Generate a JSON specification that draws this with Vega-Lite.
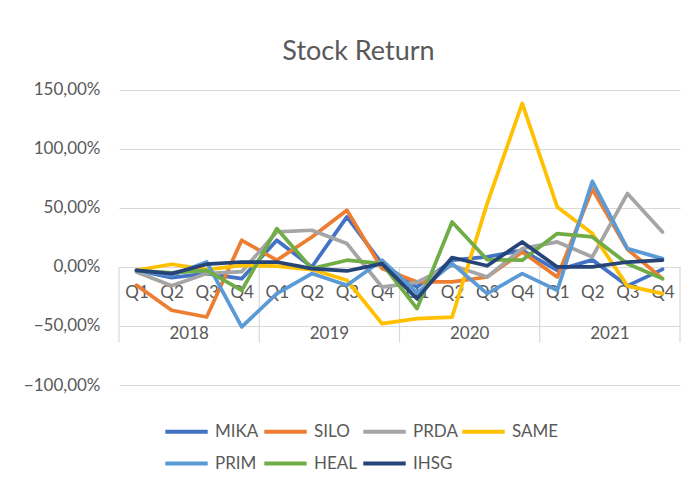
{
  "$schema": "https://vega.github.io/schema/vega-lite/v6.json",
  "width": 561,
  "height": 301,
  "autosize": {"type": "none"},
  "padding": {"left": 119, "top": 84, "right": 11, "bottom": 102},
  "background": "white",
  "title": {"text": "Stock Return", "fontSize": 27, "fontWeight": "normal", "color": "#595959", "font": "Lato", "anchor": "middle", "offset": 15, "dx": -41},
  "config": {
    "font": "Lato",
    "view": {"stroke": null},
    "axis": {"labelColor": "#595959", "labelFont": "Lato"},
    "axisY": {"grid": true, "gridColor": "#d9d9d9", "gridWidth": 1.2, "gridOpacity": 1},
    "legend": {"labelColor": "#595959", "labelFont": "Lato"}
  },
  "datasets": {
    "returns": [
      {"period": "2018 Q1", "series": "MIKA", "value": -2.8},
      {"period": "2018 Q2", "series": "MIKA", "value": -9},
      {"period": "2018 Q3", "series": "MIKA", "value": -5.6},
      {"period": "2018 Q4", "series": "MIKA", "value": -9.9},
      {"period": "2019 Q1", "series": "MIKA", "value": 22.6},
      {"period": "2019 Q2", "series": "MIKA", "value": 0},
      {"period": "2019 Q3", "series": "MIKA", "value": 42.4},
      {"period": "2019 Q4", "series": "MIKA", "value": 2.8},
      {"period": "2020 Q1", "series": "MIKA", "value": -17},
      {"period": "2020 Q2", "series": "MIKA", "value": 5.7},
      {"period": "2020 Q3", "series": "MIKA", "value": 8.5},
      {"period": "2020 Q4", "series": "MIKA", "value": 14.1},
      {"period": "2021 Q1", "series": "MIKA", "value": -2.8},
      {"period": "2021 Q2", "series": "MIKA", "value": 6},
      {"period": "2021 Q3", "series": "MIKA", "value": -16},
      {"period": "2021 Q4", "series": "MIKA", "value": -2},
      {"period": "2018 Q1", "series": "SILO", "value": -15.5},
      {"period": "2018 Q2", "series": "SILO", "value": -36.7},
      {"period": "2018 Q3", "series": "SILO", "value": -42.4},
      {"period": "2018 Q4", "series": "SILO", "value": 22.6},
      {"period": "2019 Q1", "series": "SILO", "value": 5.7},
      {"period": "2019 Q2", "series": "SILO", "value": 25.4},
      {"period": "2019 Q3", "series": "SILO", "value": 48},
      {"period": "2019 Q4", "series": "SILO", "value": -1.4},
      {"period": "2020 Q1", "series": "SILO", "value": -12.7},
      {"period": "2020 Q2", "series": "SILO", "value": -12.7},
      {"period": "2020 Q3", "series": "SILO", "value": -8.5},
      {"period": "2020 Q4", "series": "SILO", "value": 12.7},
      {"period": "2021 Q1", "series": "SILO", "value": -8.5},
      {"period": "2021 Q2", "series": "SILO", "value": 66},
      {"period": "2021 Q3", "series": "SILO", "value": 15},
      {"period": "2021 Q4", "series": "SILO", "value": -9.9},
      {"period": "2018 Q1", "series": "PRDA", "value": -4.2},
      {"period": "2018 Q2", "series": "PRDA", "value": -16},
      {"period": "2018 Q3", "series": "PRDA", "value": -5.6},
      {"period": "2018 Q4", "series": "PRDA", "value": -4},
      {"period": "2019 Q1", "series": "PRDA", "value": 29.7},
      {"period": "2019 Q2", "series": "PRDA", "value": 31.1},
      {"period": "2019 Q3", "series": "PRDA", "value": 19.8},
      {"period": "2019 Q4", "series": "PRDA", "value": -17},
      {"period": "2020 Q1", "series": "PRDA", "value": -13},
      {"period": "2020 Q2", "series": "PRDA", "value": 1.4},
      {"period": "2020 Q3", "series": "PRDA", "value": -8.5},
      {"period": "2020 Q4", "series": "PRDA", "value": 15.5},
      {"period": "2021 Q1", "series": "PRDA", "value": 21.2},
      {"period": "2021 Q2", "series": "PRDA", "value": 8.5},
      {"period": "2021 Q3", "series": "PRDA", "value": 62.2},
      {"period": "2021 Q4", "series": "PRDA", "value": 29.7},
      {"period": "2018 Q1", "series": "SAME", "value": -2.8},
      {"period": "2018 Q2", "series": "SAME", "value": 2.3},
      {"period": "2018 Q3", "series": "SAME", "value": -2.2},
      {"period": "2018 Q4", "series": "SAME", "value": 1.4},
      {"period": "2019 Q1", "series": "SAME", "value": 0.8},
      {"period": "2019 Q2", "series": "SAME", "value": -2.2},
      {"period": "2019 Q3", "series": "SAME", "value": -11.3},
      {"period": "2019 Q4", "series": "SAME", "value": -48},
      {"period": "2020 Q1", "series": "SAME", "value": -43.8},
      {"period": "2020 Q2", "series": "SAME", "value": -42.4},
      {"period": "2020 Q3", "series": "SAME", "value": 53.7},
      {"period": "2020 Q4", "series": "SAME", "value": 138.5},
      {"period": "2021 Q1", "series": "SAME", "value": 50.8},
      {"period": "2021 Q2", "series": "SAME", "value": 28.3},
      {"period": "2021 Q3", "series": "SAME", "value": -16},
      {"period": "2021 Q4", "series": "SAME", "value": -22.6},
      {"period": "2018 Q1", "series": "PRIM", "value": -3},
      {"period": "2018 Q2", "series": "PRIM", "value": -7},
      {"period": "2018 Q3", "series": "PRIM", "value": 4.2},
      {"period": "2018 Q4", "series": "PRIM", "value": -50.8},
      {"period": "2019 Q1", "series": "PRIM", "value": -22.6},
      {"period": "2019 Q2", "series": "PRIM", "value": -5.6},
      {"period": "2019 Q3", "series": "PRIM", "value": -15.5},
      {"period": "2019 Q4", "series": "PRIM", "value": 5.7},
      {"period": "2020 Q1", "series": "PRIM", "value": -22},
      {"period": "2020 Q2", "series": "PRIM", "value": 2.8},
      {"period": "2020 Q3", "series": "PRIM", "value": -22.6},
      {"period": "2020 Q4", "series": "PRIM", "value": -5.6},
      {"period": "2021 Q1", "series": "PRIM", "value": -19.8},
      {"period": "2021 Q2", "series": "PRIM", "value": 72.5},
      {"period": "2021 Q3", "series": "PRIM", "value": 15.5},
      {"period": "2021 Q4", "series": "PRIM", "value": 7.1},
      {"period": "2018 Q1", "series": "HEAL", "value": -3},
      {"period": "2018 Q2", "series": "HEAL", "value": -5},
      {"period": "2018 Q3", "series": "HEAL", "value": -2.8},
      {"period": "2018 Q4", "series": "HEAL", "value": -19.8},
      {"period": "2019 Q1", "series": "HEAL", "value": 32.5},
      {"period": "2019 Q2", "series": "HEAL", "value": -1.4},
      {"period": "2019 Q3", "series": "HEAL", "value": 5.7},
      {"period": "2019 Q4", "series": "HEAL", "value": 2.8},
      {"period": "2020 Q1", "series": "HEAL", "value": -35.3},
      {"period": "2020 Q2", "series": "HEAL", "value": 38.1},
      {"period": "2020 Q3", "series": "HEAL", "value": 6.2},
      {"period": "2020 Q4", "series": "HEAL", "value": 5.7},
      {"period": "2021 Q1", "series": "HEAL", "value": 28.3},
      {"period": "2021 Q2", "series": "HEAL", "value": 25.4},
      {"period": "2021 Q3", "series": "HEAL", "value": 2.8},
      {"period": "2021 Q4", "series": "HEAL", "value": -9.9},
      {"period": "2018 Q1", "series": "IHSG", "value": -2.8},
      {"period": "2018 Q2", "series": "IHSG", "value": -5.6},
      {"period": "2018 Q3", "series": "IHSG", "value": 2.3},
      {"period": "2018 Q4", "series": "IHSG", "value": 4.2},
      {"period": "2019 Q1", "series": "IHSG", "value": 4.2},
      {"period": "2019 Q2", "series": "IHSG", "value": -1.4},
      {"period": "2019 Q3", "series": "IHSG", "value": -3.4},
      {"period": "2019 Q4", "series": "IHSG", "value": 2.8},
      {"period": "2020 Q1", "series": "IHSG", "value": -26.8},
      {"period": "2020 Q2", "series": "IHSG", "value": 8},
      {"period": "2020 Q3", "series": "IHSG", "value": 1},
      {"period": "2020 Q4", "series": "IHSG", "value": 21.2},
      {"period": "2021 Q1", "series": "IHSG", "value": 0},
      {"period": "2021 Q2", "series": "IHSG", "value": 0},
      {"period": "2021 Q3", "series": "IHSG", "value": 4.2},
      {"period": "2021 Q4", "series": "IHSG", "value": 5.7}
    ],
    "years": [
      {"year": "2018"},
      {"year": "2019"},
      {"year": "2020"},
      {"year": "2021"}
    ]
  },
  "layer": [
    {
      "layer": [
        {
          "data": {"name": "years"},
          "mark": {"type": "rule", "color": "#d9d9d9", "strokeWidth": 1.2},
          "encoding": {
            "x": {"field": "year", "type": "ordinal", "bandPosition": 0,
                  "scale": {"type": "band", "paddingInner": 0, "paddingOuter": 0},
                  "axis": {"orient": "bottom", "offset": -66, "domain": false, "ticks": false, "labelPadding": 6, "labelFontSize": 17, "labelBaseline": "top", "labelAngle": 0, "title": null, "grid": false}},
            "y": {"datum": 0, "type": "quantitative", "scale": {"domain": [-100, 155], "nice": false, "zero": false},
                  "axis": {"values": [-100, -50, 0, 50, 100, 150], "title": null, "grid": true, "domain": false, "ticks": false, "tickSize": 0, "labelPadding": 19, "labelFontSize": 17, "labelExpr": "replace(format(datum.value, '.2f'), '.', ',') + '%'"}},
            "y2": {"datum": -64}
          }
        },
        {
          "data": {"name": "years"},
          "transform": [{"filter": "datum.year == '2021'"}],
          "mark": {"type": "rule", "color": "#d9d9d9", "strokeWidth": 1.2},
          "encoding": {
            "x": {"field": "year", "type": "ordinal", "bandPosition": 1},
            "y": {"datum": 0, "type": "quantitative"},
            "y2": {"datum": -64}
          }
        }
      ]
    },
    {
      "data": {"name": "returns"},
      "mark": {"type": "line", "strokeWidth": 3.75, "strokeJoin": "round", "strokeCap": "round"},
      "encoding": {
        "x": {"field": "period", "type": "ordinal", "sort": null,
              "scale": {"type": "point", "padding": 0.5},
              "axis": {"orient": "bottom", "offset": -118, "domain": false, "ticks": false, "labelAngle": 0, "labelPadding": 25, "labelFontSize": 17, "labelBaseline": "middle", "labelExpr": "slice(datum.value, 5)", "title": null, "grid": false}},
        "y": {"field": "value", "type": "quantitative",
              "scale": {"domain": [-100, 155], "nice": false, "zero": false},
              "axis": {"values": [-100, -50, 0, 50, 100, 150], "title": null, "grid": true, "domain": false, "ticks": false, "tickSize": 0, "labelPadding": 19, "labelFontSize": 17, "labelExpr": "replace(format(datum.value, '.2f'), '.', ',') + '%'"}},
        "color": {"field": "series", "type": "nominal",
                  "scale": {"domain": ["MIKA", "SILO", "PRDA", "SAME", "PRIM", "HEAL", "IHSG"],
                            "range": ["#4472C4", "#ED7D31", "#A5A5A5", "#FFC000", "#5B9BD5", "#70AD47", "#264478"]},
                  "legend": {"title": null, "orient": "none", "legendX": 44, "legendY": 324, "direction": "horizontal", "columns": 4, "symbolType": "stroke", "symbolSize": 1800, "symbolStrokeWidth": 4, "labelFontSize": 17, "labelOffset": 5, "columnPadding": -6, "rowPadding": -10, "gridAlign": "all"}},
        "order": {"field": "series", "sort": "ascending"}
      }
    }
  ],
  "resolve": {"scale": {"x": "independent"}, "axis": {"x": "independent"}}
}
